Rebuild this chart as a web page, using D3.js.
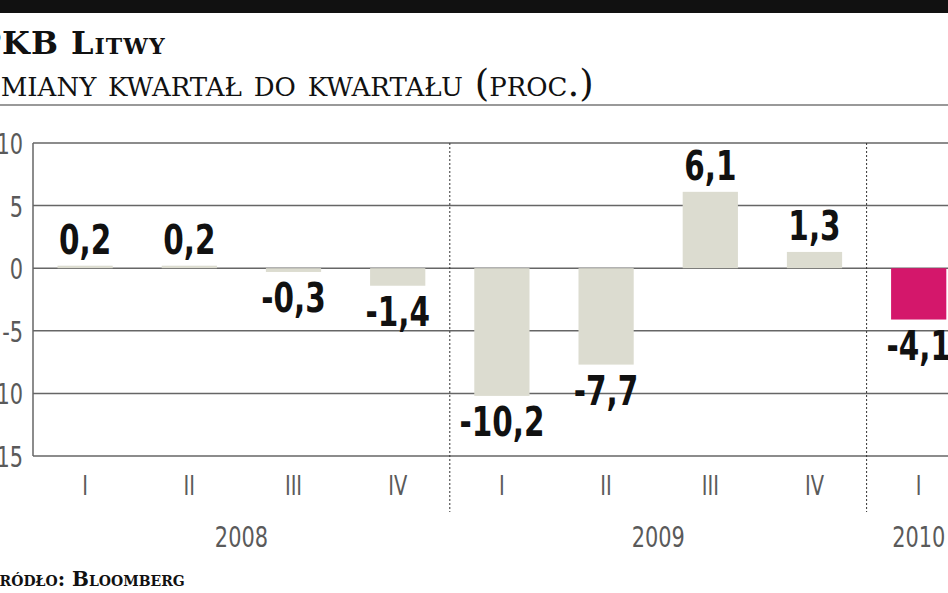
<!DOCTYPE html>
<html>
<head>
<meta charset="utf-8">
<script src="https://cdn.jsdelivr.net/npm/d3@7"></script>
<style>
  body { margin: 0; background: #fff; }
  svg { display: block; }
  .head { font-family: "DejaVu Serif", serif; font-variant: small-caps; fill: #111; }
  .num { font-family: "DejaVu Sans Condensed", "Liberation Sans", sans-serif; fill: #5a5a5a; }
  .val { font-family: "DejaVu Sans Condensed", "Liberation Sans", sans-serif; font-weight: bold; fill: #111; }
</style>
</head>
<body>
<div id="chart"></div>
<script>
// data
const quarters = ["I", "II", "III", "IV", "I", "II", "III", "IV", "I"]
const years = ["2008", "2008", "2008", "2008", "2009", "2009", "2009", "2009", "2010"]
const values = [0.2, 0.2, -0.3, -1.4, -10.2, -7.7, 6.1, 1.3, -4.1]
const yTicks = [10, 5, 0, -5, -10, -15]

const width = 948, height = 593
const plot = { left: 33, top: 143, bottom: 456, step: 104.2 }
const narrow = 0.8   // the original uses a condensed face, squeeze ours a bit

const svg = d3.select("#chart").append("svg")
    .attr("width", width)
    .attr("height", height)

// header
svg.append("rect").attr("x", 0).attr("y", 0).attr("width", width).attr("height", 13).attr("fill", "#111")

svg.append("text").attr("class", "head")
    .attr("x", -23).attr("y", 54)
    .style("font-size", "32px").style("font-weight", "bold")
    .style("letter-spacing", "1px")
    .text("PKB Litwy")

svg.append("text").attr("class", "head")
    .attr("x", -25).attr("y", 96)
    .style("font-size", "37px")
    .text("Zmiany kwartał do kwartału (proc.)")

svg.append("line")
    .attr("x1", 0).attr("x2", width).attr("y1", 105).attr("y2", 105)
    .attr("stroke", "#999").attr("stroke-width", 2)

// scales
const idx = d3.range(values.length)
const x = d3.scaleBand()
    .domain(idx)
    .range([plot.left, plot.left + plot.step * values.length])
    .paddingInner(0.47)
    .paddingOuter(0.235)

const y = d3.scaleLinear()
    .domain([-15, 10])
    .range([plot.bottom, plot.top])

const stepStart = i => x(i) + x.bandwidth() / 2 - x.step() / 2
const fmt = d => d3.format(".1f")(d).replace(".", ",").replace("\u2212", "-")

// grid
svg.append("g")
  .selectAll("line")
  .data(yTicks)
  .join("line")
    .attr("x1", plot.left).attr("x2", width)
    .attr("y1", d => y(d)).attr("y2", d => y(d))
    .attr("stroke", "#666").attr("stroke-width", 1.5)

svg.append("line")
    .attr("x1", plot.left).attr("x2", plot.left)
    .attr("y1", y(10)).attr("y2", y(-15))
    .attr("stroke", "#666").attr("stroke-width", 1.5)

// y axis labels
const yAxis = d3.axisLeft(y)
    .tickValues(yTicks)
    .tickSize(0)
    .tickPadding(0)
    .tickFormat(d => String(d))

svg.append("g")
    .attr("transform", "translate(23,0)")
    .attr("font-family", null)
    .attr("font-size", null)
    .call(yAxis)
    .call(g => g.select(".domain").remove())
    .call(g => g.selectAll("text")
        .attr("class", "num")
        .attr("dy", "0.36em")
        .attr("transform", `scale(${narrow},1)`)
        .style("font-size", "29px"))

// year separators
const breaks = idx.filter(i => i > 0 && years[i] !== years[i - 1])
svg.append("g")
  .selectAll("line")
  .data(breaks)
  .join("line")
    .attr("x1", d => stepStart(d)).attr("x2", d => stepStart(d))
    .attr("y1", plot.top).attr("y2", 512)
    .attr("stroke", "#333").attr("stroke-width", 1)
    .attr("stroke-dasharray", "2,2")

// bars
svg.append("g")
  .selectAll("rect")
  .data(values)
  .join("rect")
    .attr("x", (d, i) => x(i))
    .attr("width", x.bandwidth())
    .attr("y", d => y(Math.max(0, d)))
    .attr("height", d => Math.abs(y(d) - y(0)))
    .attr("fill", (d, i) => i === values.length - 1 ? "#d4176b" : "#dcdcd0")

// value labels
svg.append("g")
  .selectAll("text")
  .data(values)
  .join("text")
    .attr("class", "val")
    .attr("transform", (d, i) => `translate(${x(i) + x.bandwidth() / 2},${d >= 0 ? y(d) - 12 : y(d) + 40}) scale(0.82,1)`)
    .attr("text-anchor", "middle")
    .style("font-size", "40px")
    .text(fmt)

// quarter labels
svg.append("g")
  .selectAll("text")
  .data(quarters)
  .join("text")
    .attr("class", "num")
    .attr("transform", (d, i) => `translate(${x(i) + x.bandwidth() / 2},495) scale(${narrow},1)`)
    .attr("text-anchor", "middle")
    .style("font-size", "27px")
    .text(d => d)

// year labels
const yearGroups = d3.groups(idx, i => years[i])
svg.append("g")
  .selectAll("text")
  .data(yearGroups)
  .join("text")
    .attr("class", "num")
    .attr("transform", ([, is]) => `translate(${(x(is[0]) + x(is[is.length - 1]) + x.bandwidth()) / 2},547) scale(${narrow},1)`)
    .attr("text-anchor", "middle")
    .style("font-size", "29px")
    .text(([yr]) => yr)

// source
svg.append("text").attr("class", "head")
    .attr("x", -15).attr("y", 586)
    .style("font-size", "20px").style("font-weight", "bold")
    .text("Źródło: Bloomberg")
</script>
</body>
</html>
